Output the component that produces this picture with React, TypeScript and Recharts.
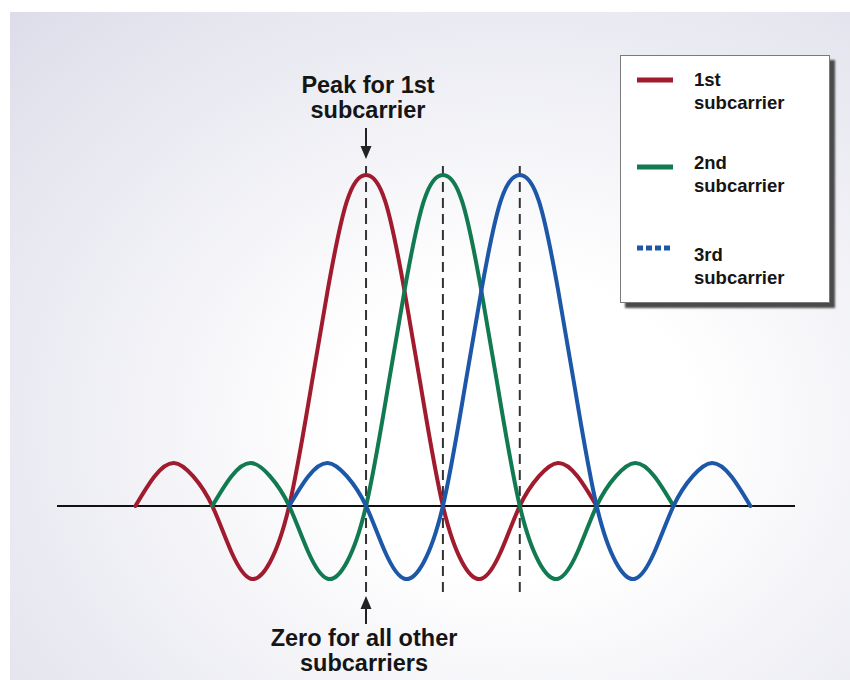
import { type ReactElement } from 'react'
import { LineChart, Line, XAxis, YAxis, ReferenceLine, Legend } from 'recharts'

// x positions in subcarrier spacings, quarter steps
const xs = [
  0, 0.25, 0.5, 0.75, 1, 1.25, 1.5, 1.75, 2, 2.25, 2.5, 2.75, 3, 3.25, 3.5, 3.75, 4,
  4.25, 4.5, 4.75, 5, 5.25, 5.5, 5.75, 6, 6.25, 6.5, 6.75, 7, 7.25, 7.5, 7.75, 8,
]

// amplitudes (peak = 1), null where a curve is not drawn
const first = [
  0, 0.09, 0.13, 0.09, 0, -0.14, -0.22, -0.17, 0, 0.31, 0.65, 0.92, 1.0, 0.92, 0.65, 0.31, 0,
  -0.17, -0.22, -0.14, 0, 0.09, 0.13, 0.09, 0, null, null, null, null, null, null, null, null,
]
const second = [
  null, null, null, null, 0, 0.09, 0.13, 0.09, 0, -0.14, -0.22, -0.17, 0, 0.31, 0.65, 0.92, 1.0,
  0.92, 0.65, 0.31, 0, -0.17, -0.22, -0.14, 0, 0.09, 0.13, 0.09, 0, null, null, null, null,
]
const third = [
  null, null, null, null, null, null, null, null, 0, 0.09, 0.13, 0.09, 0, -0.14, -0.22, -0.17, 0,
  0.31, 0.65, 0.92, 1.0, 0.92, 0.65, 0.31, 0, -0.17, -0.22, -0.14, 0, 0.09, 0.13, 0.09, 0,
]

const peaks = [3, 4, 5]
const legendLabels = ['1st', '2nd', '3rd']

const RED = '#a01b2d'
const GREEN = '#127a50'
const BLUE = '#1c57a8'
const FONT = "'Liberation Sans', Arial, sans-serif"

const data = xs.map((x, i) => ({ x, s1: first[i], s2: second[i], s3: third[i] }))

const legendRows = [
  { top: 12, color: RED, dash: undefined as string | undefined, sampleTop: 8 },
  { top: 95, color: GREEN, dash: undefined, sampleTop: 12 },
  { top: 187, color: BLUE, dash: '6 3', sampleTop: 1 },
]

function LegendBox(): ReactElement {
  return (
    <div
      style={{
        position: 'relative',
        width: 208,
        height: 246,
        background: '#fff',
        border: '1px solid #7a7a7a',
        boxShadow: '5px 5px 2px #4a4a4a',
        fontFamily: FONT,
      }}
    >
      {legendRows.map((row, i) => (
        <div key={i} style={{ position: 'absolute', left: 0, top: row.top, width: '100%' }}>
          <svg
            width={40}
            height={8}
            style={{ position: 'absolute', left: 14, top: row.sampleTop }}
          >
            <line
              x1={2}
              y1={4}
              x2={38}
              y2={4}
              stroke={row.color}
              strokeWidth={5}
              strokeDasharray={row.dash}
            />
          </svg>
          <div
            style={{
              position: 'absolute',
              left: 73,
              top: 0,
              fontSize: 18.5,
              fontWeight: 700,
              lineHeight: '23px',
              color: '#151515',
            }}
          >
            {legendLabels[i]}
            <br />
            subcarrier
          </div>
        </div>
      ))}
    </div>
  )
}

export default function App(): ReactElement {
  return (
    <div style={{ position: 'absolute', left: 0, top: 0, width: 850, height: 680, background: '#fff' }}>
      <div
        style={{
          position: 'absolute',
          left: 10,
          top: 12,
          width: 840,
          height: 668,
          background: 'radial-gradient(ellipse at 60% 62%, #ffffff 25%, #dcdde9 100%)',
        }}
      />
      <div style={{ position: 'absolute', left: 0, top: 0 }}>
        <LineChart
          width={850}
          height={680}
          data={data}
          margin={{ top: 163, right: 55, bottom: 88, left: 57 }}
        >
          <XAxis type="number" dataKey="x" domain={[-1.02, 8.58]} hide allowDataOverflow />
          <YAxis type="number" domain={[-0.26, 1.036]} hide allowDataOverflow />
          <ReferenceLine y={0} stroke="#111" strokeWidth={2} />
          {peaks.map((p) => (
            <ReferenceLine key={p} x={p} stroke="#333" strokeWidth={2} strokeDasharray="10 6" />
          ))}
          <Line
            type="natural"
            dataKey="s1"
            stroke={RED}
            strokeWidth={4}
            strokeLinecap="round"
            dot={false}
            isAnimationActive={false}
          />
          <Line
            type="natural"
            dataKey="s2"
            stroke={GREEN}
            strokeWidth={4}
            strokeLinecap="round"
            dot={false}
            isAnimationActive={false}
          />
          <Line
            type="natural"
            dataKey="s3"
            stroke={BLUE}
            strokeWidth={4}
            strokeLinecap="round"
            dot={false}
            isAnimationActive={false}
          />
          <Legend
            layout="horizontal"
            align="center"
            verticalAlign="middle"
            content={() => <LegendBox />}
            wrapperStyle={{ position: 'absolute', left: 620, top: 55, width: 210, height: 248 }}
          />
        </LineChart>
      </div>
      <svg
        width={850}
        height={680}
        style={{ position: 'absolute', left: 0, top: 0, pointerEvents: 'none' }}
        fontFamily={FONT}
        fontWeight={700}
        fill="#151515"
      >
        <text x={368} y={93} fontSize={23.5} textAnchor="middle">Peak for 1st</text>
        <text x={368} y={118} fontSize={23.5} textAnchor="middle">subcarrier</text>
        <line x1={366} y1={128} x2={366} y2={150} stroke="#222" strokeWidth={2} />
        <polygon points="360.5,146 371.5,146 366,159" fill="#222" />
        <polygon points="366,596 360.5,609 371.5,609" fill="#222" />
        <line x1={366} y1={606} x2={366} y2={624} stroke="#222" strokeWidth={2} />
        <text x={364} y={646} fontSize={23.5} textAnchor="middle">Zero for all other</text>
        <text x={364} y={671} fontSize={23.5} textAnchor="middle">subcarriers</text>
      </svg>
    </div>
  )
}
